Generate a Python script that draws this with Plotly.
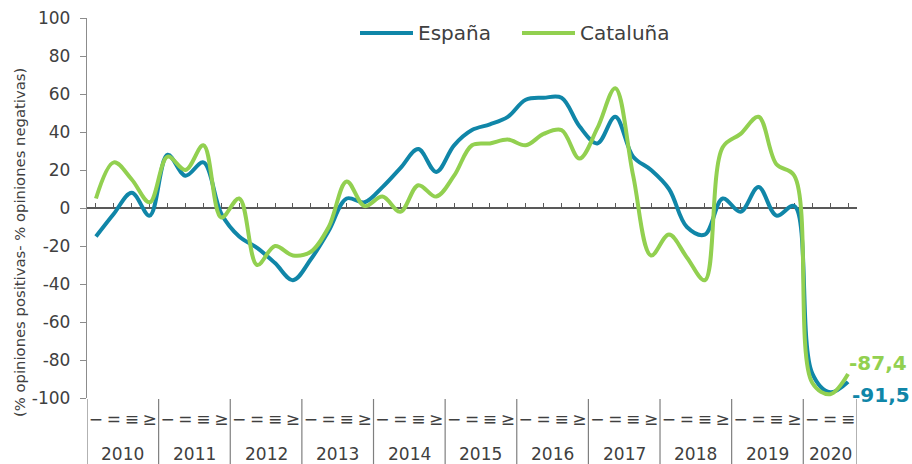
import plotly.graph_objects as go

# Quarterly series, 2010 Q1 to 2020 Q3
YEARS = [str(y) for y in range(2010, 2021)]
QUARTER_LABELS = ["−", "=", "≡", "≥"]
QUARTERS_PER_YEAR = [4] * 10 + [3]
SERIES_NAMES = ["España", "Cataluña"]

ESPANA = [-15, -3, 8, -4, 28, 17, 24, -3, -15, -21, -29, -38, -27, -12, 5, 3,
          11, 21, 31, 19, 33, 41, 44, 48, 57, 58, 58, 43, 34, 48, 27, 20,
          10, -10, -14, 5, -2, 11, -4, 1, -87, -97, -91.5]
CATALUNA = [5, 24, 15, 3, 27, 20, 33, -5, 5, -30, -20, -25, -23, -10, 14, 1,
            6, -2, 12, 6, 17, 33, 34, 36, 33, 39, 41, 26, 42, 63, 17, -25,
            -14, -26, -38, 32, 39, 48, 23, 17, -92, -98, -87.4]

Y_TICKS = list(range(-100, 101, 20))
Y_TICK_TEXT = [str(v) for v in Y_TICKS]

BLUE = "#1086A8"
GREEN = "#92D050"
TEXT = "#404040"
FONT = "DejaVu Sans"

# plot area in pixels (used to convert layout positions to paper units)
L, T, W, H = 87, 18, 770, 380


def px_x(px):
    return (px - L) / W


def px_y(py):
    return (T + H - py) / H


# one category per quarter; year groups tracked for labels and dividers
cats, cat_text, groups = [], [], []
for year, n in zip(YEARS, QUARTERS_PER_YEAR):
    groups.append((year, len(cats), n))
    for q in range(n):
        cats.append(f"{year}-{q + 1}")
        cat_text.append(QUARTER_LABELS[q])
n_points = len(cats)


def fmt(v):
    return f"{v:.1f}".replace(".", ",")


fig = go.Figure()
for name, values, color in zip(SERIES_NAMES, [ESPANA, CATALUNA], [BLUE, GREEN]):
    fig.add_trace(go.Scatter(
        x=cats, y=values, name=name, mode="lines", showlegend=False,
        line=dict(color=color, width=4, shape="spline", smoothing=1.0),
    ))
# carrier trace for the zero axis with tick marks
fig.add_trace(go.Scatter(
    x=[0, n_points - 1], y=[0, 0], xaxis="x2", mode="lines",
    line=dict(width=0), opacity=0, showlegend=False, hoverinfo="skip",
))

# legend: line sample + name for each series
for name, color, x0 in zip(SERIES_NAMES, [BLUE, GREEN], [360, 522]):
    fig.add_shape(type="line", xref="paper", yref="paper",
                  x0=px_x(x0), x1=px_x(x0 + 53), y0=px_y(33), y1=px_y(33),
                  line=dict(color=color, width=4))
    fig.add_annotation(x=px_x(x0 + 56), y=px_y(33), xref="paper", yref="paper",
                       text=name, showarrow=False, xanchor="left", yanchor="middle",
                       font=dict(family=FONT, size=20, color=TEXT))

# end-of-series value labels
fig.add_annotation(x=cats[-1], y=CATALUNA[-1], xref="x", yref="y",
                   text=fmt(CATALUNA[-1]), showarrow=False,
                   xanchor="left", yanchor="middle", xshift=-1, yshift=11,
                   font=dict(family=FONT, size=20, color=GREEN, weight="bold"))
fig.add_annotation(x=cats[-1], y=ESPANA[-1], xref="x", yref="y",
                   text=fmt(ESPANA[-1]), showarrow=False,
                   xanchor="left", yanchor="middle", xshift=2, yshift=-13,
                   font=dict(family=FONT, size=20, color=BLUE, weight="bold"))

# year labels and group dividers under the quarter labels
for year, start, n in groups:
    fig.add_annotation(x=start + (n - 1) / 2, y=px_y(454), xref="x", yref="paper",
                       text=year, showarrow=False, xanchor="center", yanchor="middle",
                       font=dict(family=FONT, size=17, color=TEXT))
    fig.add_shape(type="line", xref="x", yref="paper",
                  x0=start - 0.5, x1=start - 0.5, y0=px_y(399), y1=px_y(464),
                  line=dict(color="#7f7f7f", width=1.2))
fig.add_shape(type="line", xref="x", yref="paper",
              x0=n_points - 0.5, x1=n_points - 0.5, y0=px_y(399), y1=px_y(464),
              line=dict(color="#7f7f7f", width=1.2))

fig.add_annotation(x=px_x(20), y=px_y(243), xref="paper", yref="paper",
                   text="(% opiniones positivas- % opiniones negativas)",
                   textangle=-90, showarrow=False, xanchor="center", yanchor="middle",
                   font=dict(family=FONT, size=14.8, color=TEXT))

fig.update_layout(
    width=912, height=464,
    margin=dict(l=L, r=912 - L - W, t=T, b=464 - T - H, autoexpand=False),
    paper_bgcolor="white", plot_bgcolor="white",
    font=dict(family=FONT, color=TEXT),
    showlegend=False,
    xaxis=dict(type="category", range=[-0.5, n_points - 0.5],
               showgrid=False, zeroline=False, showline=False, ticks="",
               tickmode="array", tickvals=cats, ticktext=cat_text,
               ticklabelstandoff=9, automargin=False,
               tickfont=dict(family=FONT, size=17, color=TEXT)),
    xaxis2=dict(overlaying="x", anchor="free", position=0.5, side="bottom",
                range=[-0.5, n_points - 0.5], showgrid=False, zeroline=False,
                showline=True, linecolor="#595959", linewidth=1.5,
                ticks="inside", ticklen=4, tickcolor="#595959", tickwidth=1.2,
                tickvals=list(range(n_points)), showticklabels=False,
                layer="below traces", automargin=False),
    yaxis=dict(range=[-100, 100], tickvals=Y_TICKS, ticktext=Y_TICK_TEXT,
               showgrid=False, zeroline=False, showline=True,
               linecolor="#8c8c8c", linewidth=1.3,
               ticks="outside", ticklen=6, tickcolor="#8c8c8c",
               ticklabelstandoff=6, automargin=False,
               tickfont=dict(family=FONT, size=17, color=TEXT)),
)

fig.write_html("out.html")
